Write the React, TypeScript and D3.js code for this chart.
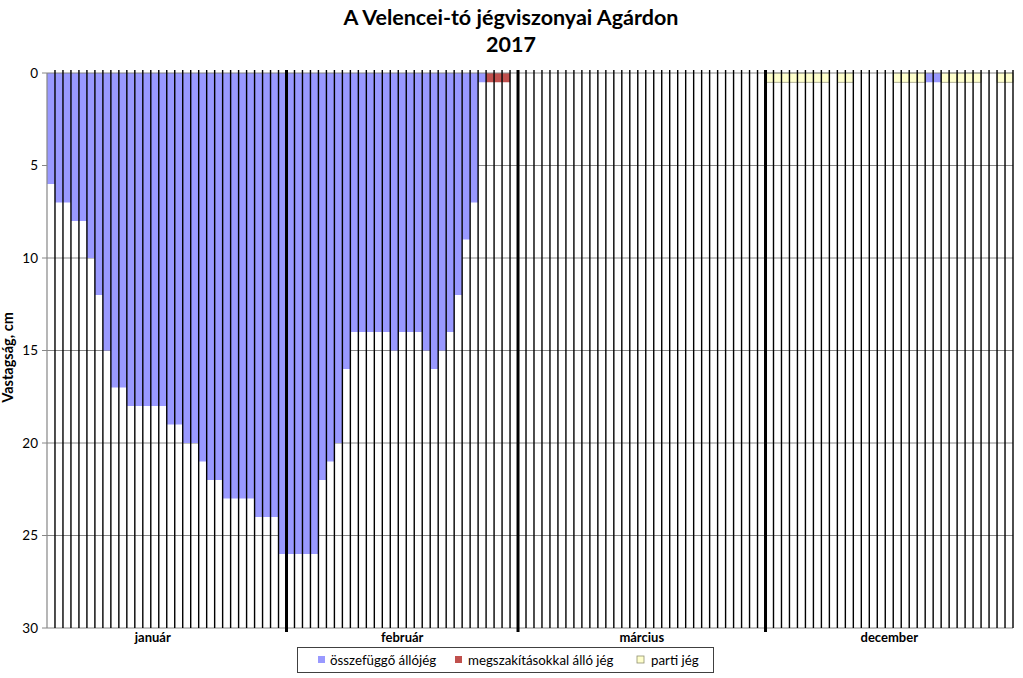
import React from "react";
import * as d3 from "d3";

const W = 1023;
const H = 678;

const months = ["január", "február", "március", "december"];
const monthDays = [30, 29, 31, 31];
const yTicks = [0, 5, 10, 15, 20, 25, 30];

// összefüggő állójég (cm), one value per day category
const solidIce = [
  6, 7, 7, 8, 8, 10, 12, 15, 17, 17,
  18, 18, 18, 18, 18, 19, 19, 20, 20, 21,
  22, 22, 23, 23, 23, 23, 24, 24, 24, 26,
  26, 26, 26, 26, 22, 21, 20, 16, 14, 14,
  14, 14, 14, 15, 14, 14, 14, 15, 16, 15,
  14, 12, 9, 7, 0.5, 0, 0, 0, 0, 0,
  0, 0, 0, 0, 0, 0, 0, 0, 0, 0,
  0, 0, 0, 0, 0, 0, 0, 0, 0, 0,
  0, 0, 0, 0, 0, 0, 0, 0, 0, 0,
  0, 0, 0, 0, 0, 0, 0, 0, 0, 0,
  0, 0, 0, 0, 0, 0, 0, 0, 0, 0,
  0.5, 0.5, 0, 0, 0, 0, 0, 0, 0, 0,
  0,
];
// megszakításokkal álló jég
const brokenIce = [
  0, 0, 0, 0, 0, 0, 0, 0, 0, 0,
  0, 0, 0, 0, 0, 0, 0, 0, 0, 0,
  0, 0, 0, 0, 0, 0, 0, 0, 0, 0,
  0, 0, 0, 0, 0, 0, 0, 0, 0, 0,
  0, 0, 0, 0, 0, 0, 0, 0, 0, 0,
  0, 0, 0, 0, 0, 0.5, 0.5, 0.5, 0, 0,
  0, 0, 0, 0, 0, 0, 0, 0, 0, 0,
  0, 0, 0, 0, 0, 0, 0, 0, 0, 0,
  0, 0, 0, 0, 0, 0, 0, 0, 0, 0,
  0, 0, 0, 0, 0, 0, 0, 0, 0, 0,
  0, 0, 0, 0, 0, 0, 0, 0, 0, 0,
  0, 0, 0, 0, 0, 0, 0, 0, 0, 0,
  0,
];
// parti jég
const shoreIce = [
  0, 0, 0, 0, 0, 0, 0, 0, 0, 0,
  0, 0, 0, 0, 0, 0, 0, 0, 0, 0,
  0, 0, 0, 0, 0, 0, 0, 0, 0, 0,
  0, 0, 0, 0, 0, 0, 0, 0, 0, 0,
  0, 0, 0, 0, 0, 0, 0, 0, 0, 0,
  0, 0, 0, 0, 0, 0, 0, 0, 0, 0,
  0, 0, 0, 0, 0, 0, 0, 0, 0, 0,
  0, 0, 0, 0, 0, 0, 0, 0, 0, 0,
  0, 0, 0, 0, 0, 0, 0, 0, 0, 0,
  0.5, 0.5, 0.5, 0.5, 0.5, 0.5, 0.5, 0.5, 0, 0.5,
  0.5, 0, 0, 0, 0, 0, 0.5, 0.5, 0.5, 0.5,
  0, 0, 0.5, 0.5, 0.5, 0.5, 0.5, 0, 0, 0.5,
  0.5,
];

const seriesNames = ["összefüggő állójég", "megszakításokkal álló jég", "parti jég"];
const seriesColors = ["#9999FF", "#C0504D", "#FFFFCC"];

const FONT = "Lato, 'Open Sans', sans-serif";

export default function App() {
  const left = 47;
  const right = 1013;
  const top = 73;
  const bottom = 628;
  const n = solidIce.length;
  const idx = d3.range(n);

  const x = d3.scaleBand<number>().domain(idx).range([left, right]).padding(0);
  const y = d3.scaleLinear().domain([0, 30]).range([top, bottom]);
  const bw = x.bandwidth();

  const bounds: number[] = [];
  let acc = 0;
  monthDays.forEach((d) => {
    bounds.push(acc);
    acc += d;
  });
  const labelShift = [-14, 0, 0, 0];

  const series = [solidIce, brokenIce, shoreIce];

  const legendItems = [
    { x: 318, tx: 330 },
    { x: 455, tx: 468 },
    { x: 637, tx: 651 },
  ];

  return (
    <svg
      width={W}
      height={H}
      style={{ position: "absolute", left: 0, top: 0, background: "#fff" }}
      fontFamily={FONT}
    >
      <rect x={0} y={0} width={W} height={H} fill="#fff" />
      <text x={511} y={25} textAnchor="middle" fontSize={21.5} fontWeight="bold" fill="#000">
        A Velencei-tó jégviszonyai Agárdon
      </text>
      <text x={511} y={52} textAnchor="middle" fontSize={21.5} fontWeight="bold" fill="#000">
        2017
      </text>

      {yTicks.slice(1).map((t) => (
        <line key={"g" + t} x1={left} x2={right} y1={y(t)} y2={y(t)} stroke="#868686" strokeWidth={1} />
      ))}

      {series.map((vals, si) =>
        vals.map((v, i) =>
          v > 0 ? (
            <rect
              key={"b" + si + "-" + i}
              x={x(i)!}
              y={y(0)}
              width={bw}
              height={y(v) - y(0)}
              fill={seriesColors[si]}
              stroke={si === 2 ? "#8f8f70" : "none"}
              strokeWidth={si === 2 ? 0.7 : 0}
            />
          ) : null
        )
      )}

      <line x1={left} x2={right} y1={top} y2={top} stroke="#868686" strokeWidth={1.2} />

      {idx.map((i) => {
        const xx = x(i)! + bw;
        return (
          <line key={"v" + i} x1={xx} x2={xx} y1={top - 3} y2={bottom} stroke="#000" strokeWidth={1.4} />
        );
      })}

      {bounds.slice(1).map((b) => {
        const xx = x(b)!;
        return <line key={"m" + b} x1={xx} x2={xx} y1={top - 3} y2={bottom + 4} stroke="#000" strokeWidth={3} />;
      })}

      <line x1={left} x2={left} y1={top} y2={bottom} stroke="#868686" strokeWidth={1.2} />
      {yTicks.map((t) => (
        <g key={"t" + t}>
          <line x1={left - 5} x2={left} y1={y(t)} y2={y(t)} stroke="#868686" strokeWidth={1} />
          <text x={38} y={y(t)} dy="0.35em" textAnchor="end" fontSize={13.5} fill="#000">
            {t}
          </text>
        </g>
      ))}
      <text
        transform={`translate(13,${(top + bottom) / 2 + 7}) rotate(-90)`}
        textAnchor="middle"
        fontSize={14.5}
        fontWeight="bold"
        fill="#000"
      >
        Vastagság, cm
      </text>

      {months.map((m, mi) => {
        const start = x(bounds[mi])!;
        const end = mi + 1 < bounds.length ? x(bounds[mi + 1])! : right;
        return (
          <text
            key={m}
            x={(start + end) / 2 + labelShift[mi]}
            y={641.5}
            textAnchor="middle"
            fontSize={13}
            fontWeight="bold"
            fill="#000"
          >
            {m}
          </text>
        );
      })}

      <rect x={297.5} y={647.5} width={416} height={25} fill="#fff" stroke="#404040" strokeWidth={1} />
      {seriesNames.map((s, si) => (
        <g key={s}>
          <rect
            x={legendItems[si].x}
            y={656}
            width={7}
            height={7}
            fill={seriesColors[si]}
            stroke={si === 2 ? "#8f8f70" : "none"}
            strokeWidth={0.8}
          />
          <text x={legendItems[si].tx} y={660} dy="0.35em" fontSize={13.3} fill="#000">
            {s}
          </text>
        </g>
      ))}
    </svg>
  );
}
